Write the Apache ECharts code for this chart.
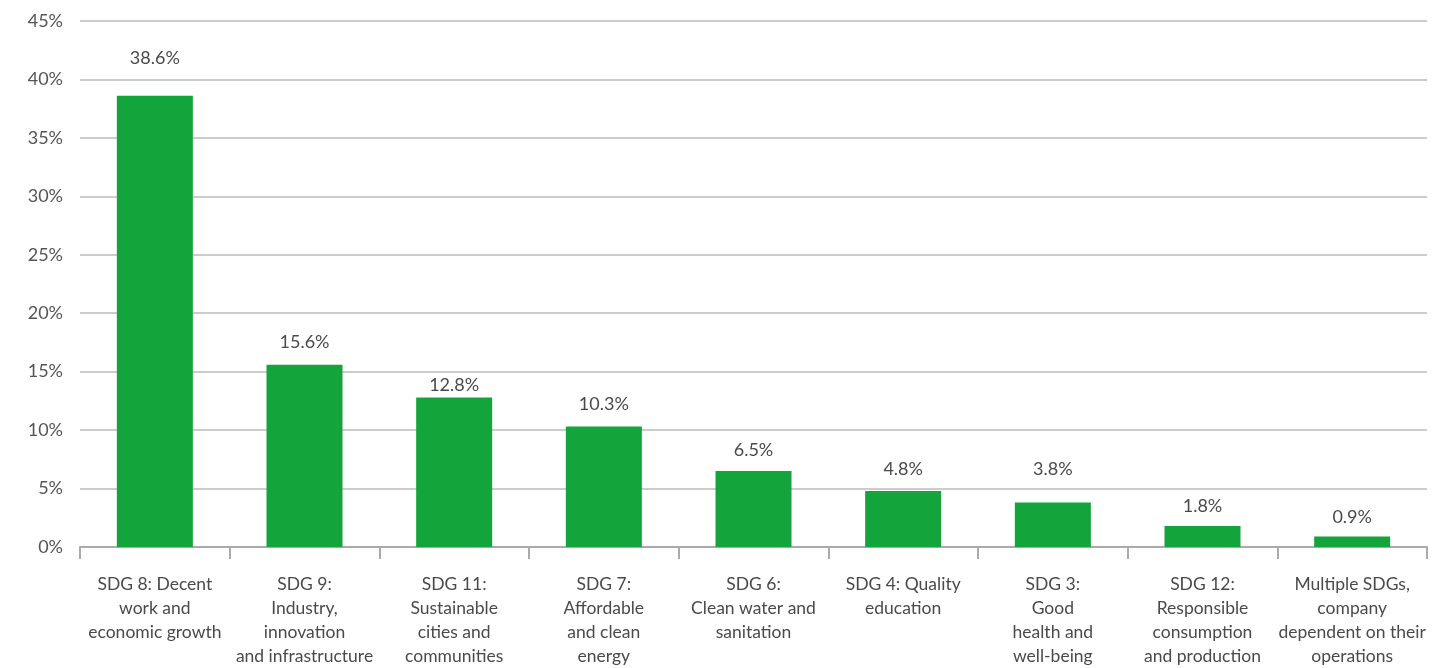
<!DOCTYPE html>
<html><head><meta charset="utf-8">
<script src="https://cdn.jsdelivr.net/npm/echarts@6/dist/echarts.min.js"></script>
<style>html,body{margin:0;padding:0;background:#fff}#c{width:1452px;height:668px}</style>
</head><body><div id="c"></div>
<script>
const categories = [
  "SDG 8: Decent\nwork and\neconomic growth",
  "SDG 9:\nIndustry,\ninnovation\nand infrastructure",
  "SDG 11:\nSustainable\ncities and\ncommunities",
  "SDG 7:\nAffordable\nand clean\nenergy",
  "SDG 6:\nClean water and\nsanitation",
  "SDG 4: Quality\neducation",
  "SDG 3:\nGood\nhealth and\nwell-being",
  "SDG 12:\nResponsible\nconsumption\nand production",
  "Multiple SDGs,\ncompany\ndependent on their\noperations"
];
const values = [38.6, 15.6, 12.8, 10.3, 6.5, 4.8, 3.8, 1.8, 0.9];
const labelGap = [29, 13, 3, 13, 12, 13, 24, 11, 10];

const chart = echarts.init(document.getElementById('c'));
chart.setOption({
  animation: false,
  grid: { left: 80, right: 25, top: 21, bottom: 118, containLabel: false },
  xAxis: {
    type: 'category', data: categories,
    axisLine: { lineStyle: { color: '#aaa', width: 2 } },
    axisTick: { show: true, length: 12, lineStyle: { color: '#aaa', width: 2 } },
    axisLabel: { interval: 0, color: '#4a4a4a', fontFamily: 'Lato', fontSize: 17.5, lineHeight: 24, margin: 25, align: 'center', verticalAlign: 'top' }
  },
  yAxis: {
    type: 'value', min: 0, max: 45, interval: 5,
    axisLabel: { formatter: '{value}%', color: '#555', fontFamily: 'Lato', fontSize: 18, margin: 17 },
    splitLine: { lineStyle: { color: '#bbb', width: 1.5 } },
    axisLine: { show: false }, axisTick: { show: false }
  },
  series: [{
    type: 'bar', barWidth: 76,
    data: values.map((v, i) => ({ value: v, label: { distance: labelGap[i] } })),
    itemStyle: { color: '#14a43c' },
    label: { show: true, position: 'top', formatter: p => p.value.toFixed(1) + '%', color: '#4a4a4a', fontFamily: 'Lato', fontSize: 18 }
  }]
});
</script></body></html>
